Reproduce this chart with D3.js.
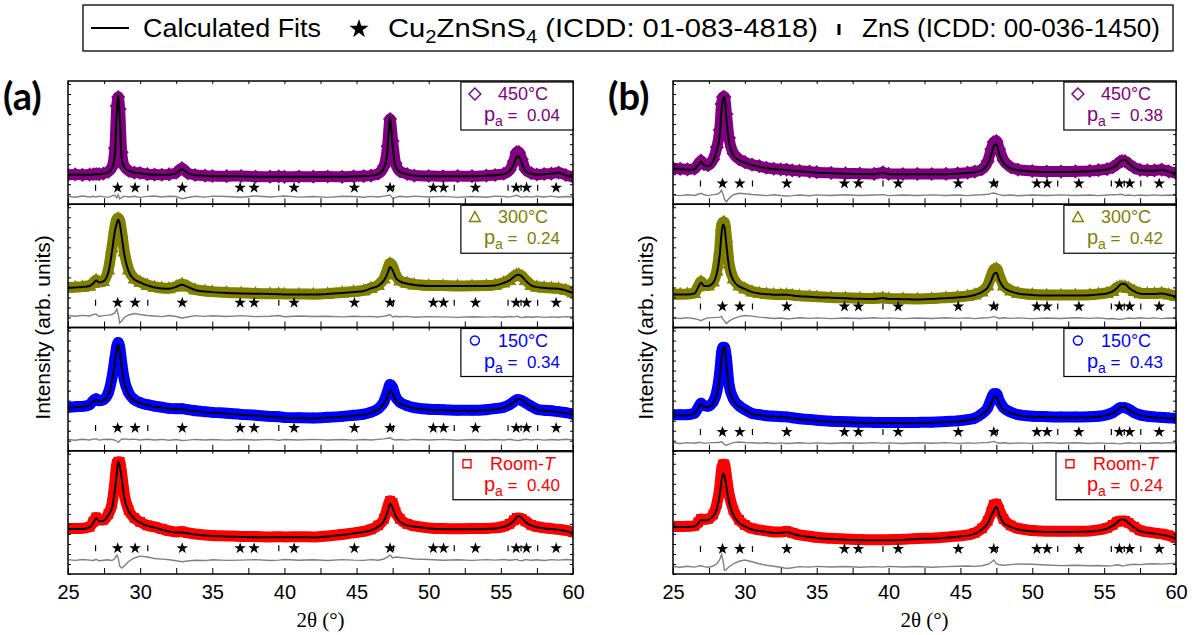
<!DOCTYPE html>
<html><head><meta charset="utf-8">
<script src="https://cdn.jsdelivr.net/npm/d3@7"></script>
<style>
body{margin:0;background:#fff}
svg{display:block}
text{font-family:"Liberation Sans",Arial,sans-serif}
</style>
</head><body>
<svg id="c" width="1193" height="635"></svg>
<script>
// ---------------- DATA ----------------
const twoTheta = [25, 25.5, 26, 26.5, 26.75, 26.95, 27.15, 27.45, 27.8, 28.05,
  28.25, 28.38, 28.48, 28.58, 28.72, 28.9, 29.2, 29.6, 30, 30.5,
  31, 31.5, 32, 32.5, 32.9, 33.3, 33.8, 34.5, 35, 36,
  37, 38, 39, 39.6, 40, 41, 42, 43, 44, 44.8,
  45.5, 46, 46.5, 46.9, 47.15, 47.32, 47.5, 47.7, 48, 48.5,
  49, 50, 51, 52, 53, 54, 54.6, 55.2, 55.6, 55.9,
  56.1, 56.25, 56.45, 56.7, 57.1, 57.5, 58, 58.5, 59, 59.5, 60];

// reflection positions (2theta, deg)
const cztsRefl = [28.44, 29.65, 32.92, 36.93, 37.90, 40.67, 44.85, 47.32, 50.32, 51.03, 53.24, 56.06, 56.78, 58.83];
const znsRefl = [26.91, 28.50, 30.53, 39.61, 47.56, 51.77, 55.50, 56.40, 57.55];

const xTickLabels = [25, 30, 35, 40, 45, 50, 55, 60];
const temperatures = ["450°C", "300°C", "150°C", "Room-T"];
const paPanelA = ["0.04", "0.24", "0.34", "0.40"];
const paPanelB = ["0.38", "0.42", "0.43", "0.24"];

// ----- panel (a) -----
const calcA450 = [29.5,29.5,29.5,29.5,29.7,30,30,30.5,32,36,
  50,90,109,88,46,37,33.5,31.5,31,30,
  29.5,29.5,29.5,31,35,31,29,28.5,28,28,
  28,27.5,27.5,27.5,27.5,27.5,27.5,27.5,27.5,27.8,
  28,28.5,30,36,54,87,58,38,32,30,
  28.5,28,28,28,28,28.5,29,30,33,40,
  47,48,41,33,30.5,29.5,30,30.5,31.5,29,27];
const obsA450 = [29.5,29.8,29.3,29.6,29.9,30.2,30,30.6,32.5,37,
  56,98,107,95,52,38,33.5,31.5,31.2,30,
  29.6,29.4,29.8,31.5,36,31,29.2,28.5,28.2,28,
  28.2,27.6,27.5,27.8,27.4,27.6,27.5,27.7,27.4,27.9,
  28.1,28.6,30.5,38,58,85,63,41,33,30.2,
  28.6,28.2,27.9,28.1,28,28.6,29.2,30.4,34,43,
  52,52,45,35,31,29.7,30.2,30.6,31.6,29.2,27.2];
const diffA450 = [0.4,-0.5,0.7,-0.3,0.5,-0.4,0.6,0.1,-0.6,0.8,
  1.5,-1.2,2,-2.2,-0.8,0.6,-0.3,0.5,-0.6,0.4,
  0.8,-0.2,0.5,0.2,-2,-0.8,0.5,-0.4,0.6,0.2,
  -0.5,0.7,-0.3,0.4,0.8,-0.4,0.3,-0.6,0.5,0.2,
  -0.5,0.4,-0.3,0.6,1.2,1.8,-1.5,-0.6,0.5,-0.3,
  0.6,-0.2,0.4,-0.6,0.3,-0.5,0.6,0.2,-0.4,0.8,
  1.5,0.5,-0.6,0.2,-0.4,0.5,-0.3,0.6,-0.5,0.3,-0.2];

const calcA300 = [39.7,40,40.5,41.5,44,47,45,46,55,76,
  96,104,107.7,104,91,73,56,48,45,42,
  40,39,38.7,40.5,42.7,40.5,37.5,36,35.3,34.5,
  34,33.7,33.5,33.3,33,33,33,33.5,34.5,35.5,
  36.5,39,41.5,47,54,60.3,57,50,46,43.7,
  42.5,41.5,41.3,41.3,41.3,41.5,42,44.5,47,50.5,
  52.5,52.7,51,47,42,40.3,39.5,39,38.7,37,34.7];
const obsA300 = [40,40.3,40.8,41.8,44.5,47.5,45.5,46.5,58,80,
  100,108,109,107,95,76,58,49,45.5,42.5,
  40.5,39.5,39.2,41,43.5,41,38,36.5,35.8,35,
  34.5,34,33.8,33.8,33.4,33.4,33.3,33.8,35,36,
  37,39.5,42.5,49,58,64,61,53,47,44.5,
  43,42,41.8,41.5,41.6,41.8,42.5,45,47.5,51,
  53,53,51.5,47.5,42.5,40.8,40,39.5,39,37.5,35];
const diffA300 = [0.5,-0.3,0.6,0,1.5,1.8,-0.5,0.3,0.8,1.5,
  3,7,2,-7,-5,-1.5,1,2.5,1.5,0.5,
  0,-0.6,0.4,-0.5,-2,-1,0.3,-0.4,0.2,-0.5,
  0.3,-0.6,-0.2,0.4,-0.8,0,-0.5,-0.3,-0.9,-0.2,
  -0.6,-0.4,-1,-0.2,0.5,1.5,-1,-0.3,-0.8,-0.4,
  -1.2,-0.6,-0.9,-1.4,-0.7,-1.1,-0.6,-1.3,-0.5,-0.9,
  -0.2,-1,-1.6,-0.8,-1.2,-0.7,-1.4,-0.9,-1.2,-0.6,-1];

const calcA150 = [43,43.5,44,45.5,49,51,49,50,56,70,
  88,100,106,100,84,68,56,50,47.5,45.5,
  44,43,42,41.5,41.5,40.5,39.5,38.5,38,37,
  36,35,34,33.5,33,32.5,32.5,33,34,35,
  36,38,41,47,54,60,57,51,47,44.3,
  42.5,41,40.5,40,40,40.5,41.5,43,45.5,48.5,
  51,52,51,48,44,41,40,39.5,38.7,37.5,36];
const obsA150 = [43.5,44,44.3,46,50,52,50,51,58,73,
  92,104,108,104,88,71,58,51,48,46,
  44.5,43.5,42.3,42,42,41,40,39,38.3,37.5,
  36.3,35.5,34.3,34,33.3,33,32.8,33.4,34.3,35.5,
  36.5,38.5,42,49,59,66,63,54,48.5,45,
  43,41.5,41,40.4,40.4,41,42,43.5,46,49,
  51,51,50,48,44.5,41.5,40.4,40,39,38,36.5];
const diffA150 = [0.3,-0.5,0.4,-0.2,0.6,0.8,-0.4,0.2,0.5,0.3,
  -0.5,-1.5,-2.5,-1,0.5,0.8,0.3,0.6,-0.3,0.4,
  -0.2,0.3,-0.5,0.2,-0.8,-0.4,0.3,-0.3,0.2,-0.4,
  0.3,-0.2,0.4,-0.5,0.2,-0.3,0.4,-0.2,0.3,-0.4,
  0.2,-0.3,0.4,0.8,1.5,2,0.5,-0.3,0.2,-0.4,
  0.3,-0.2,0.4,-0.5,0.2,-0.3,0.3,-0.2,0.4,-0.3,
  -0.6,-0.8,-0.3,0.4,-0.2,0.3,-0.4,0.2,-0.3,0.4,-0.2];

const calcART = [45,45,45,46.5,51,55.7,53,53,59,66,
  84,100,112.3,108,95,76,63,55,51.3,48,
  46.3,44.3,42.3,41.5,41.5,40.5,39.5,38.5,38,37.5,
  37,36.7,36.7,36.7,36.7,36.7,36.5,37.5,39,40.5,
  42,43.5,47.3,53,62,70,66,58,52.3,48.5,
  47.3,45.5,44.7,44.7,44.7,45,45.5,47,49.5,53,
  57,58,56,52,48.5,46.7,45.5,44.8,44,43,41.3];
const obsART = [45.5,45.3,45.6,47,52,56.5,54,54,60,70,
  92,110,112,112,100,80,64,56,52,48.5,
  47,45,43,42,42.3,41,40,39,38.5,38,
  37.5,37.3,37,37.2,37,37.2,37,38,39.5,41,
  42.5,44.5,48.5,55,66,73,71,62,55,50,
  48,46,45.3,45.2,45.3,45.5,46,47.5,50,53.5,
  56,56,55,52.5,49,47.2,46,45.3,44.5,43.5,41.8];
const diffART = [0.3,-0.4,0.5,-0.2,-0.5,0.6,-0.8,-0.3,0.2,-0.6,
  1.5,5,2,-6,-8,-6,-1.5,2,3.8,3,
  1.5,0.8,0.2,-0.8,-1.7,-1,-0.3,-0.6,0.2,-0.4,
  -0.2,0.3,-0.5,-0.2,0.4,-0.3,0.2,-0.5,0.3,-0.2,
  -0.4,0.3,-0.2,1,3,5,2,3,2.5,1.8,
  1,0.4,-0.3,0.2,-0.4,0.3,-0.2,0.4,-0.3,0.2,
  0.6,-0.4,-0.8,0.3,-0.3,0.2,-0.5,0.3,-0.2,0.4,-0.1];

// ----- panel (b) -----
const calcB450 = [35.7,35,34.5,35,39,42.3,39,38,43.3,54,
  68,94,105,107.3,85,62,49,44,41.5,39,
  37.5,36,35,34.5,34.3,33.5,33,32.3,31.7,31,
  30.5,30.2,30,31.5,30,30,30,30,30,30.5,
  31.2,32,34,40,50,58,60,50,41,35.7,
  34,32.8,32.3,32.3,32.5,33,33.7,34.7,36.5,39.5,
  42.5,44,44.7,41,36,34,33.5,33.5,34.5,32.5,30.7];
const obsB450 = [36,35.3,34.8,35.5,40,43.5,40,39,45,57,
  74,100,107,107,90,66,51,45,42,39.5,
  38,36.4,35.4,34.8,34.6,33.8,33.3,32.6,32,31.3,
  30.8,30.5,30.3,31.8,30.3,30.2,30.3,30.2,30.3,30.8,
  31.5,32.5,35,43,55,62,63,55,44,37,
  34.5,33.2,32.6,32.6,32.8,33.3,34,35,37,40,
  42.5,43,43,40.5,36.5,34.3,33.8,33.8,34.5,32.8,31];
const diffB450 = [0.3,-0.4,0.5,-0.3,1,2,0.5,-0.4,0.6,1,
  2.5,5,1,-4,-6.5,-3,0.5,2,1.5,0.8,
  0.3,-0.4,0.5,-0.3,-0.8,-0.4,0.3,-0.5,0.4,-0.2,
  0.5,-0.3,0.2,0.6,-0.4,0.3,-0.2,0.4,-0.3,0.2,
  -0.4,0.3,0.5,1,1.8,2.2,1.5,0.6,-0.3,0.2,
  -0.5,0.3,-0.2,0.4,-0.3,0.2,-0.4,0.3,0.6,0.4,
  1,0.8,-0.3,0.2,-0.4,0.3,-0.2,0.4,-0.3,0.2,-0.1];

const calcB300 = [33,33,33,34,40,44.7,41.5,41.3,44.7,54,
  72,94,102.7,100,82,60,47,41,38.5,35.3,
  34,33.3,32.7,32.7,32.7,32,31.3,30.8,30.3,29.7,
  29.2,28.7,28.5,29.5,28.5,28.3,28,28.5,29.3,30,
  31,32.5,35.3,40,47,53,54.7,47,40,36,
  34,32.5,32,32,32,32.3,33,34,36,39.5,
  42.5,43.7,43.5,40,36,33.7,33.5,33.5,34,32.5,31];
const obsB300 = [33.5,33.3,33.5,34.5,41,46,42.5,42,46,57,
  78,102,105,105,90,64,49,42,39,36,
  34.5,33.7,33.2,33,33,32.4,31.7,31.2,30.7,30,
  29.6,29.2,29,29.8,29,28.7,28.5,29,29.8,30.5,
  31.5,33,36,42,52,58,59,52,42,37,
  34.5,33,32.5,32.4,32.5,32.8,33.5,34.5,36.5,40,
  41,41,41,39.5,36.5,34.2,34,34,34.5,33,31.5];
const diffB300 = [0.4,-0.3,0.5,-0.5,-1.5,-2.5,-1,0.3,0.6,0.8,
  1,1.5,-1,-3,-5.3,-3,-0.5,1.5,2.7,2,
  1,0.4,-0.3,0.2,-0.5,-0.3,0.4,-0.2,0.3,-0.4,
  0.2,-0.3,0.4,-0.2,0.3,-0.4,0.2,-0.3,0.4,-0.2,
  0.3,-0.4,0.2,0.5,1,1.5,0.8,-0.3,0.4,-0.2,
  0.3,-0.4,0.2,-0.3,0.4,-0.2,0.3,-0.5,-0.3,-0.8,
  -1,-0.8,-0.4,0.2,-0.3,0.4,-0.2,0.3,-0.4,0.2,0];

const calcB150 = [35.3,35.3,35.5,37,42,46.7,44,43.7,47.7,56,
  72,92,102,104.3,86,62,50,44,40.5,36.7,
  35.5,34.5,34,33.5,33.3,32.5,31.5,30.7,30,29,
  28.5,28,27.7,27.7,27.7,27.7,27.7,28,28.7,29.3,
  30.5,32,36,41,48,53,54.3,47,41,37.7,
  35.5,34,33.5,33.3,33.3,33.5,34,35.5,37.5,40.5,
  42.5,43.7,43.5,41,37.5,35.3,34,33.3,32.8,32.4,32];
const obsB150 = [36,36,36,37.5,43,47.5,45,44.5,49,59,
  78,98,103.3,103.3,92,66,52,45,41,37.3,
  36,35,34.5,34,33.8,33,32,31.2,30.5,29.5,
  29,28.5,28.3,28.2,28.3,28.2,28.3,28.5,29.2,29.8,
  31,32.6,37,43,52,57,57,50,43,38.5,
  36,34.5,34,33.8,33.8,34,34.5,36,38,41,
  43,43,43,41.5,38,35.8,34.5,33.8,33.3,32.8,32.5];
const diffB150 = [0.3,-0.4,0.4,-0.2,0.5,0.6,-0.3,0.2,0.4,0.6,
  0.8,1.2,0.3,-1.5,-2.2,-1,0.4,1,0.6,0.3,
  -0.2,0.3,-0.4,0.2,-0.5,-0.2,0.3,-0.3,0.2,-0.4,
  0.3,-0.2,0.4,-0.3,0.2,-0.4,0.3,-0.2,0.4,-0.3,
  0.2,-0.3,0.4,0.6,1.2,1.6,0.6,-0.2,0.3,-0.4,
  0.2,-0.3,0.4,-0.2,0.3,-0.4,0.2,-0.3,-0.2,-0.6,
  -0.8,-0.5,-0.2,0.3,-0.3,0.2,-0.4,0.3,-0.2,0.4,-0.1];

const calcBRT = [47,47,47,47.3,50.5,53.8,53.5,54,57.9,65,
  79,93,100.2,98,87,72,59,51,47.5,44.4,
  43,42,41,41,42,40.3,38.3,37,36,35,
  34.3,33.8,33.6,33.6,33.6,34,35,35.2,36.2,37.3,
  38.3,40,44.4,50.5,58.5,63,67,59,51.1,47,
  44.4,42.7,42,42,42,42.3,43.3,45.3,48,51.5,
  54,54.5,53.8,50.8,46.3,42.7,41.3,40.3,39.3,37.8,35.2];
const obsBRT = [47.5,47.3,47.6,48,51.5,55,54.5,55,59.5,70,
  86,104,109.5,109.5,97,80,64,54,49,45.5,
  44,43,42,41.8,42.6,41,39,37.7,36.6,35.6,
  35,34.4,34.2,34.2,34.3,34.6,35.5,35.8,36.8,38,
  39,41,45.5,53,62,69,70,64,55,48.5,
  45.5,43.5,42.7,42.6,42.7,43,44,46,49,52,
  53,53,53,51,47,43.5,42,41,40,38.5,35.8];
const diffBRT = [0.3,-0.4,0.5,-0.3,0.6,1,0.2,-0.5,0.8,3,
  7,12.5,6,-3.4,-2.5,0,3,5.5,6.8,5,
  3,1.5,0.5,-0.5,-1.7,-1,0.2,-0.3,0.4,-0.2,
  0.3,-0.4,0.2,-0.3,0.4,-0.2,0.3,-0.4,0.2,0.5,
  0.8,0.4,1,2.5,4.5,6.8,3,2,1.5,2.2,
  2.8,2.5,1.8,1.2,1.5,1,1.3,0.8,1.2,2,
  1.5,0.8,1.2,2,2.5,2.2,2.8,3,2.7,3.2,3.5];

// ---------------- LAYOUT / STYLE ----------------
const svg = d3.select("#c");
const plotTop = 81, plotBottom = 574, nSub = 4;
const subH = (plotBottom - plotTop) / nSub;
const yMax = 123;

const seriesStyle = [
  {color: "#800080", sym: "diamond"},
  {color: "#808000", sym: "triangle"},
  {color: "#0000ff", sym: "circle"},
  {color: "#ff0000", sym: "square"}
];

const symTypes = {
  diamond: {draw(c, s){ const r = Math.sqrt(s) / 2 * 1.25; c.moveTo(0,-r); c.lineTo(r,0); c.lineTo(0,r); c.lineTo(-r,0); c.closePath(); }},
  triangle: {draw(c, s){ const r = Math.sqrt(s) / 2 * 1.2; c.moveTo(0,-r); c.lineTo(r*0.95, r*0.75); c.lineTo(-r*0.95, r*0.75); c.closePath(); }},
  square: {draw(c, s){ const r = Math.sqrt(s) / 2 * 0.85; c.moveTo(-r,-r); c.lineTo(r,-r); c.lineTo(r,r); c.lineTo(-r,r); c.closePath(); }},
  circle: {draw(c, s){ const r = Math.sqrt(s) / 2 * 0.95; c.moveTo(r,0); c.arc(0,0,r,0,2*Math.PI); }}
};

const panels = [
  {label: "(a)", labelX: 3, x0: 68, x1: 573, ylabX: 42, pa: paPanelA,
   sets: [[calcA450, obsA450, diffA450], [calcA300, obsA300, diffA300], [calcA150, obsA150, diffA150], [calcART, obsART, diffART]],
   lay: [{row: 16.5, diff: 7.5}, {row: 24.7, diff: 11.5}, {row: 22.7, diff: 11}, {row: 25.7, diff: 14}]},
  {label: "(b)", labelX: 608, x0: 673, x1: 1176, ylabX: 645, pa: paPanelB,
   sets: [[calcB450, obsB450, diffB450], [calcB300, obsB300, diffB300], [calcB150, obsB150, diffB150], [calcBRT, obsBRT, diffBRT]],
   lay: [{row: 20.7, diff: 9}, {row: 21, diff: 9.3}, {row: 18.7, diff: 7.7}, {row: 25, diff: 7.2}]}
];

const minorTicks = d3.range(25, 60.001, 2.5);
const defs = svg.append("defs");

panels.forEach((P, pi) => {
  const x = d3.scaleLinear().domain([25, 60]).range([P.x0, P.x1]);

  for (let s = 0; s < nSub; s++) {
    const top = plotTop + s * subH, bottom = top + subH;
    const y = d3.scaleLinear().domain([0, yMax]).range([bottom, top]);
    const [calc, obs, diff] = P.sets[s];
    const st = seriesStyle[s], L = P.lay[s];
    const cid = `clip${pi}_${s}`;
    defs.append("clipPath").attr("id", cid).append("rect")
      .attr("x", P.x0).attr("y", top).attr("width", P.x1 - P.x0).attr("height", subH);
    const g = svg.append("g");
    const dg = g.append("g").attr("clip-path", `url(#${cid})`);

    const n = twoTheta.length;
    const obsPts = d3.range(n).filter(i => obs[i] != null).map(i => [twoTheta[i], obs[i]]);
    const calcPts = d3.range(n).filter(i => calc[i] != null).map(i => [twoTheta[i], calc[i]]);
    const diffPts = d3.range(n).filter(i => diff[i] != null).map(i => [twoTheta[i], diff[i]]);

    const line = d3.line().x(d => x(d[0])).y(d => y(d[1])).curve(d3.curveMonotoneX);
    // observed band
    dg.append("path").attr("d", line(obsPts)).attr("fill", "none")
      .attr("stroke", st.color).attr("stroke-width", 11)
      .attr("stroke-linejoin", "round").attr("stroke-linecap", "round");
    // observed markers
    const sym = d3.symbol().type(symTypes[st.sym]).size(95);
    dg.selectAll(".m").data(obsPts).join("path")
      .attr("transform", d => `translate(${x(d[0])},${y(d[1])})`)
      .attr("d", sym).attr("fill", "none").attr("stroke", st.color).attr("stroke-width", 1.4);
    // calculated fit
    dg.append("path").attr("d", line(calcPts)).attr("fill", "none")
      .attr("stroke", "#000").attr("stroke-width", 2);
    // difference curve
    const dline = d3.line().x(d => x(d[0])).y(d => y(d[1] + L.diff));
    dg.append("path").attr("d", dline(diffPts)).attr("fill", "none")
      .attr("stroke", "#808080").attr("stroke-width", 1.4);
    // reflection marks
    const yr = y(L.row);
    dg.selectAll(".zn").data(znsRefl).join("line")
      .attr("x1", d => x(d)).attr("x2", d => x(d)).attr("y1", yr - 3).attr("y2", yr + 3)
      .attr("stroke", "#000").attr("stroke-width", 1.2);
    const star = d3.symbol().type(d3.symbolStar).size(42);
    dg.selectAll(".st").data(cztsRefl).join("path")
      .attr("transform", d => `translate(${x(d)},${yr})`).attr("d", star).attr("fill", "#000");

    // axes (ticks inward, no labels)
    const axB = d3.axisBottom(x).tickValues(minorTicks).tickSize(-6).tickFormat("");
    g.append("g").attr("transform", `translate(0,${bottom})`).call(axB).call(a => a.select(".domain").remove());
    const axT = d3.axisTop(x).tickValues(minorTicks).tickSize(-3).tickFormat("");
    g.append("g").attr("transform", `translate(0,${top})`).call(axT).call(a => a.select(".domain").remove());
    const yt = d3.range(0, yMax, 10);
    const axL = d3.axisLeft(y).tickValues(yt).tickSize(-3).tickFormat("");
    g.append("g").attr("transform", `translate(${P.x0},0)`).call(axL).call(a => a.select(".domain").remove());
    const axR = d3.axisRight(y).tickValues(yt).tickSize(-3).tickFormat("");
    g.append("g").attr("transform", `translate(${P.x1},0)`).call(axR).call(a => a.select(".domain").remove());
    g.selectAll(".tick line").attr("stroke", "#000").attr("stroke-width", 1);

    g.append("rect").attr("x", P.x0).attr("y", top).attr("width", P.x1 - P.x0).attr("height", subH)
      .attr("fill", "none").attr("stroke", "#000").attr("stroke-width", 1.5);

    // inset legend box
    const lg = svg.append("g");
    const t1 = lg.append("text").attr("fill", st.color).style("font-size", "18px").attr("y", top + 19);
    if (temperatures[s] === "Room-T") {
      t1.append("tspan").text("Room-");
      t1.append("tspan").style("font-style", "italic").text("T");
    } else t1.text(temperatures[s]);
    const t2 = lg.append("text").attr("fill", st.color).style("font-size", "17px")
      .style("white-space", "pre").attr("text-anchor", "end")
      .attr("x", P.x1 - 13).attr("y", top + 40);
    t2.append("tspan").style("font-size", "20px").text("p");
    t2.append("tspan").attr("dy", 5).style("font-size", "14px").text("a");
    t2.append("tspan").attr("dy", -5).text(" =  " + P.pa[s]);
    const w1 = t1.node().getComputedTextLength();
    const w2 = t2.node().getComputedTextLength();
    const bw = Math.max(38 + w1 + 17, w2 + 36);
    const bx = P.x1 - bw;
    lg.insert("rect", "text").attr("x", bx).attr("y", top + 1).attr("width", bw).attr("height", 48)
      .attr("fill", "#fff").attr("stroke", "#000").attr("stroke-width", 1.2);
    t1.attr("x", bx + 37);
    lg.append("path").attr("transform", `translate(${bx + 14},${top + 13})`)
      .attr("d", d3.symbol().type(symTypes[st.sym]).size(90)).attr("fill", "none")
      .attr("stroke", st.color).attr("stroke-width", 1.4);

    if (s === nSub - 1) {
      const axLab = d3.axisBottom(x).tickValues(xTickLabels).tickSize(0).tickFormat(d3.format("d"));
      const la = svg.append("g").attr("transform", `translate(0,${bottom})`).call(axLab);
      la.select(".domain").remove();
      la.selectAll("text").attr("y", 25).attr("dy", 0).style("font-size", "20px")
        .style("font-family", '"Liberation Sans",Arial,sans-serif').attr("fill", "#000");
    }
  }

  // panel label
  svg.append("text").attr("x", P.labelX).attr("y", 110).text(P.label)
    .style("font-family", 'Lato,"Open Sans",sans-serif').style("font-weight", "bold").style("font-size", "38px");
  // axis titles
  svg.append("text").attr("transform", `translate(${P.ylabX},${(plotTop + plotBottom) / 2}) rotate(-90)`)
    .attr("text-anchor", "middle").attr("dominant-baseline", "central").style("font-size", "21px")
    .text("Intensity (arb. units)");
  svg.append("text").attr("x", (P.x0 + P.x1) / 2).attr("y", 627).attr("text-anchor", "middle")
    .style("font-family", '"Liberation Serif","Times New Roman",serif').style("font-size", "21px")
    .text("2θ (°)");
});

// ---------------- TOP LEGEND ----------------
const leg = svg.append("g");
leg.append("rect").attr("x", 83).attr("y", 5).attr("width", 1090).attr("height", 46)
  .attr("fill", "#fff").attr("stroke", "#000").attr("stroke-width", 1.3);
leg.append("line").attr("x1", 91).attr("x2", 129).attr("y1", 28).attr("y2", 28)
  .attr("stroke", "#000").attr("stroke-width", 2);
leg.append("text").attr("x", 143).attr("y", 37).style("font-size", "26px")
  .attr("textLength", 178).attr("lengthAdjust", "spacingAndGlyphs").text("Calculated Fits");
leg.append("path").attr("transform", "translate(359,29)")
  .attr("d", d3.symbol().type(d3.symbolStar).size(115)).attr("fill", "#000");
const lt2 = leg.append("text").attr("x", 388).attr("y", 37).style("font-size", "26px")
  .attr("textLength", 430).attr("lengthAdjust", "spacingAndGlyphs");
lt2.append("tspan").text("Cu");
lt2.append("tspan").attr("dy", 6).style("font-size", "18px").text("2");
lt2.append("tspan").attr("dy", -6).text("ZnSnS");
lt2.append("tspan").attr("dy", 6).style("font-size", "18px").text("4");
lt2.append("tspan").attr("dy", -6).text(" (ICDD: 01-083-4818)");
leg.append("line").attr("x1", 839).attr("x2", 839).attr("y1", 24).attr("y2", 35)
  .attr("stroke", "#000").attr("stroke-width", 3);
leg.append("text").attr("x", 862).attr("y", 37).style("font-size", "25px")
  .attr("textLength", 298).attr("lengthAdjust", "spacingAndGlyphs").text("ZnS (ICDD: 00-036-1450)");
</script>
</body></html>
